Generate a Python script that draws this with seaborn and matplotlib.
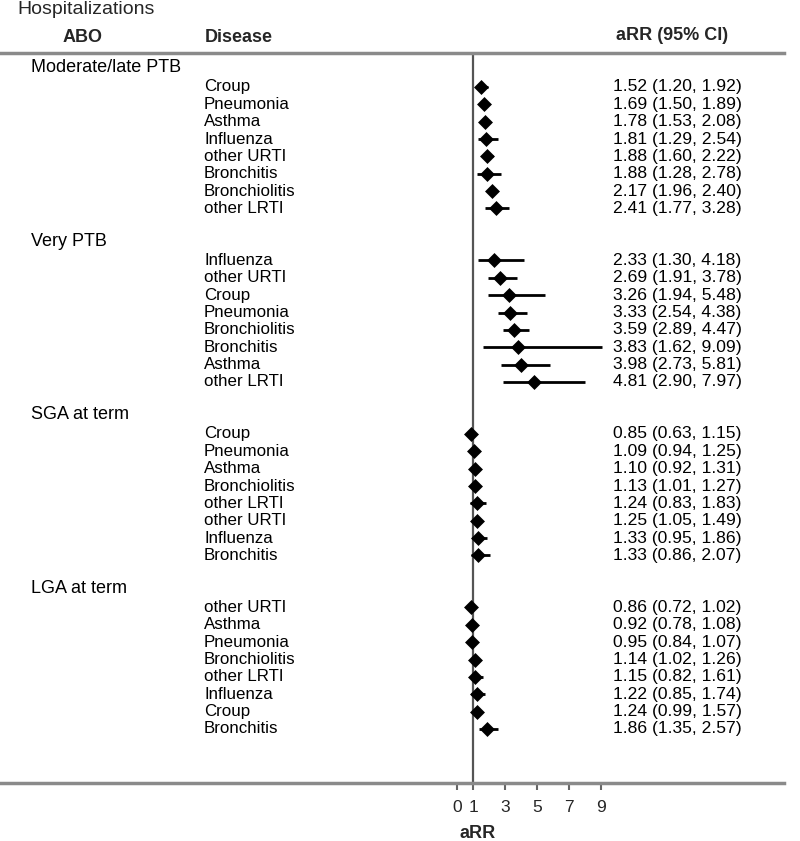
import numpy as np
import pandas as pd
import matplotlib
matplotlib.use("Agg")
import matplotlib.pyplot as plt
import matplotlib.transforms as mtransforms
import seaborn as sns

groups = ["Moderate/late PTB", "Very PTB", "SGA at term", "LGA at term"]

diseases_modlate = ["Croup", "Pneumonia", "Asthma", "Influenza", "other URTI", "Bronchitis", "Bronchiolitis", "other LRTI"]
arr_modlate = [1.52, 1.69, 1.78, 1.81, 1.88, 1.88, 2.17, 2.41]
lo_modlate = [1.20, 1.50, 1.53, 1.29, 1.60, 1.28, 1.96, 1.77]
hi_modlate = [1.92, 1.89, 2.08, 2.54, 2.22, 2.78, 2.40, 3.28]

diseases_very = ["Influenza", "other URTI", "Croup", "Pneumonia", "Bronchiolitis", "Bronchitis", "Asthma", "other LRTI"]
arr_very = [2.33, 2.69, 3.26, 3.33, 3.59, 3.83, 3.98, 4.81]
lo_very = [1.30, 1.91, 1.94, 2.54, 2.89, 1.62, 2.73, 2.90]
hi_very = [4.18, 3.78, 5.48, 4.38, 4.47, 9.09, 5.81, 7.97]

diseases_sga = ["Croup", "Pneumonia", "Asthma", "Bronchiolitis", "other LRTI", "other URTI", "Influenza", "Bronchitis"]
arr_sga = [0.85, 1.09, 1.10, 1.13, 1.24, 1.25, 1.33, 1.33]
lo_sga = [0.63, 0.94, 0.92, 1.01, 0.83, 1.05, 0.95, 0.86]
hi_sga = [1.15, 1.25, 1.31, 1.27, 1.83, 1.49, 1.86, 2.07]

diseases_lga = ["other URTI", "Asthma", "Pneumonia", "Bronchiolitis", "other LRTI", "Influenza", "Croup", "Bronchitis"]
arr_lga = [0.86, 0.92, 0.95, 1.14, 1.15, 1.22, 1.24, 1.86]
lo_lga = [0.72, 0.78, 0.84, 1.02, 0.82, 0.85, 0.99, 1.35]
hi_lga = [1.02, 1.08, 1.07, 1.26, 1.61, 1.74, 1.57, 2.57]

xticks = [0, 1, 3, 5, 7, 9]

# ---- build table ----
rows = []
blocks = [
    (diseases_modlate, arr_modlate, lo_modlate, hi_modlate),
    (diseases_very, arr_very, lo_very, hi_very),
    (diseases_sga, arr_sga, lo_sga, hi_sga),
    (diseases_lga, arr_lga, lo_lga, hi_lga),
]
ROWS_PER_GROUP = 10
for g, (dis, est, lo, hi) in enumerate(blocks):
    for i, (d, e, l, h) in enumerate(zip(dis, est, lo, hi)):
        rows.append(dict(group=groups[g], disease=d, est=e, lo=l, hi=h,
                         row=g * ROWS_PER_GROUP + i))
df = pd.DataFrame(rows)

sns.set_style("white")
plt.rcParams["font.family"] = ["Liberation Sans", "DejaVu Sans"]

W, H = 800, 841
fig = plt.figure(figsize=(W / 100, H / 100), dpi=100)

top_px, bot_px = 53, 783
ax = fig.add_axes([0, 1 - bot_px / H, 1, (bot_px - top_px) / H])

px_per_unit = 16.0
x_ref_px = 473.0
xmin = 1 - x_ref_px / px_per_unit
xmax = 1 + (W - x_ref_px) / px_per_unit
ax.set_xlim(xmin, xmax)

row_px = 17.35
first_px = 87.0
ax.set_ylim((bot_px - first_px) / row_px, (top_px - first_px) / row_px)

# CI lines
ax.hlines(df["row"], df["lo"], df["hi"], color="black", lw=2, zorder=2)
# point estimates
sns.scatterplot(data=df, x="est", y="row", marker="D", s=58, color="black",
                edgecolor="black", linewidth=0, ax=ax, zorder=3, legend=False)
# reference line
ax.axvline(1, color="#555555", lw=1.6, zorder=1)

ax.set_xlabel("")
ax.set_ylabel("")
ax.set_yticks([])
ax.set_xticks(xticks)
ax.set_xticklabels([str(t) for t in xticks], fontsize=12.5)
ax.tick_params(axis="x", bottom=True, direction="out", length=5, width=1.5,
               color="#666666", pad=7.5)

for s in ["left", "right"]:
    ax.spines[s].set_visible(False)
edge_x = 1 + (784 - x_ref_px) / px_per_unit
for s in ["top", "bottom"]:
    ax.spines[s].set_visible(True)
    ax.spines[s].set_color("#8a8a8a")
    ax.spines[s].set_linewidth(2.5)
    ax.spines[s].set_bounds(xmin, edge_x)

tr = mtransforms.blended_transform_factory(fig.transFigure, ax.transData)
for _, r in df.iterrows():
    ax.text(204 / W, r["row"], r["disease"], transform=tr, fontsize=12.2,
            va="center", ha="left", color="black")
    ax.text(613 / W, r["row"],
            f"{r['est']:.2f} ({r['lo']:.2f}, {r['hi']:.2f})",
            transform=tr, fontsize=12.6, va="center", ha="left", color="black")

for g, name in enumerate(groups):
    ax.text(31 / W, g * ROWS_PER_GROUP - 1.12, name, transform=tr, fontsize=13,
            va="center", ha="left", color="black")

def fy(px):
    return 1 - px / H

fig.text(17 / W, fy(9), "Hospitalizations", fontsize=14, va="center", ha="left")
fig.text(83 / W, fy(37), "ABO", fontsize=13, fontweight="bold", va="center", ha="center")
fig.text(205 / W, fy(37), "Disease", fontsize=13, fontweight="bold", va="center", ha="left")
fig.text(616 / W, fy(36), "aRR (95% CI)", fontsize=13, fontweight="bold", va="center", ha="left")
fig.text(478 / W, fy(834), "aRR", fontsize=13, fontweight="bold", va="center", ha="center")

fig.savefig("out.png", dpi=100)
